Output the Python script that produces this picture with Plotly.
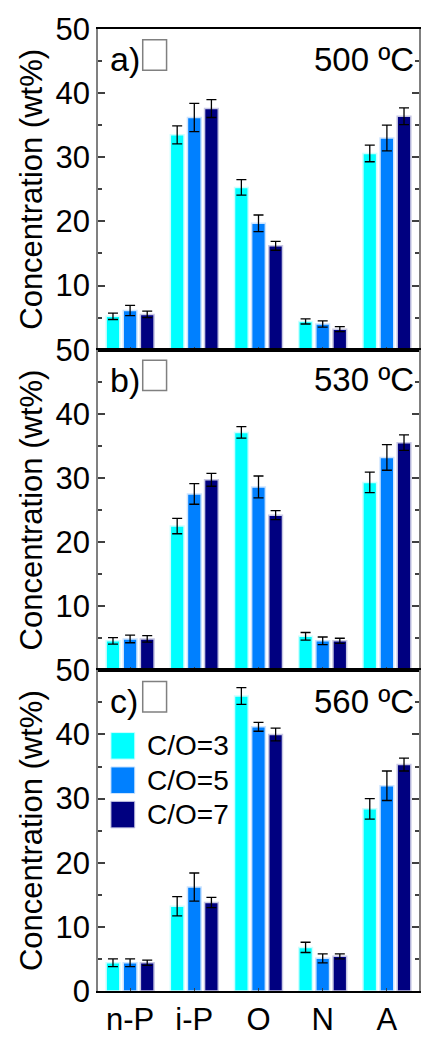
import plotly.graph_objects as go
from plotly.subplots import make_subplots

categories = ["n-P", "i-P", "O", "N", "A"]
series_names = ["C/O=3", "C/O=5", "C/O=7"]

# Panel a) 500 ºC
a_co3 = [5.2, 33.5, 25.3, 4.4, 30.6]
a_co3_err = [0.5, 1.4, 1.2, 0.4, 1.3]
a_co5 = [6.1, 36.2, 19.7, 4.0, 33.0]
a_co5_err = [0.8, 2.2, 1.3, 0.5, 2.0]
a_co7 = [5.5, 37.6, 16.2, 3.2, 36.4]
a_co7_err = [0.5, 1.4, 0.7, 0.4, 1.3]

# Panel b) 530 ºC
b_co3 = [4.6, 22.5, 37.1, 5.3, 29.3]
b_co3_err = [0.5, 1.2, 0.9, 0.6, 1.6]
b_co5 = [4.9, 27.5, 28.6, 4.6, 33.2]
b_co5_err = [0.6, 1.6, 1.7, 0.6, 2.0]
b_co7 = [4.9, 29.7, 24.2, 4.6, 35.5]
b_co7_err = [0.5, 1.0, 0.7, 0.4, 1.2]

# Panel c) 560 ºC
c_co3 = [4.4, 13.2, 46.0, 6.8, 28.4]
c_co3_err = [0.6, 1.5, 1.3, 0.8, 1.6]
c_co5 = [4.4, 16.2, 41.2, 5.1, 32.0]
c_co5_err = [0.6, 2.2, 0.7, 0.7, 2.3]
c_co7 = [4.4, 13.8, 40.0, 5.4, 35.3]
c_co7_err = [0.4, 0.8, 1.0, 0.4, 1.0]

panel_labels = ["a)", "b)", "c)"]
temp_labels = ["500 ºC", "530 ºC", "560 ºC"]

panels = [
    [(a_co3, a_co3_err), (a_co5, a_co5_err), (a_co7, a_co7_err)],
    [(b_co3, b_co3_err), (b_co5, b_co5_err), (b_co7, b_co7_err)],
    [(c_co3, c_co3_err), (c_co5, c_co5_err), (c_co7, c_co7_err)],
]

colors = ["#00FFFF", "#0080FF", "#000080"]
edge_colors = ["#CCFFFF", "#CCE4FF", "#C8C8E4"]

FONT = "Liberation Sans, Arial, sans-serif"

fig = make_subplots(rows=3, cols=1, shared_xaxes=True, vertical_spacing=0)

for r, panel in enumerate(panels, start=1):
    for i, (vals, errs) in enumerate(panel):
        fig.add_trace(
            go.Bar(
                x=categories,
                y=vals,
                name=series_names[i],
                marker=dict(color=colors[i], line=dict(color=edge_colors[i], width=1.5)),
                error_y=dict(type="data", array=errs, color="black", thickness=1.3, width=5),
                showlegend=False,
            ),
            row=r, col=1,
        )

W, H = 423, 1039
ml, mr, mt, mb = 98, 2, 29, 31
pw = W - ml - mr
ph = H - mt - mb


def px_x(x):
    return (x - ml) / pw


def px_y(y):
    return (H - mb - y) / ph


annotations = []
shapes = []
panel_tops = [29, 355, 682]
for k in range(3):
    top = panel_tops[k]
    annotations.append(dict(
        text=panel_labels[k], xref="paper", yref="paper",
        x=px_x(108), y=px_y(top + 31), xanchor="left", yanchor="middle",
        showarrow=False, font=dict(family=FONT, size=34, color="black")))
    annotations.append(dict(
        text=temp_labels[k], xref="paper", yref="paper",
        x=px_x(418), y=px_y(top + 31), xanchor="right", yanchor="middle",
        showarrow=False, font=dict(family=FONT, size=33, color="black")))
    shapes.append(dict(
        type="rect", xref="paper", yref="paper",
        x0=px_x(143), x1=px_x(167), y0=px_y(top + 11), y1=px_y(top + 42),
        line=dict(color="#808080", width=1.5), fillcolor="rgba(0,0,0,0)"))

# Legend drawn inside panel c
leg_tops = [745, 780, 815]
for i, name in enumerate(series_names):
    t = leg_tops[i]
    shapes.append(dict(
        type="rect", xref="paper", yref="paper",
        x0=px_x(111), x1=px_x(135), y0=px_y(t), y1=px_y(t + 27),
        line=dict(color=edge_colors[i], width=1), fillcolor=colors[i]))
    annotations.append(dict(
        text=name, xref="paper", yref="paper",
        x=px_x(145), y=px_y(t + 13.5), xanchor="left", yanchor="middle",
        showarrow=False, font=dict(family=FONT, size=28, color="black")))

fig.update_layout(
    width=W, height=H,
    margin=dict(l=ml, r=mr, t=mt, b=mb),
    paper_bgcolor="white", plot_bgcolor="white",
    barmode="group", bargap=0.2, bargroupgap=0.2,
    font=dict(family=FONT, color="black"),
    annotations=annotations, shapes=shapes,
    showlegend=False,
)

for r in range(1, 4):
    fig.update_yaxes(
        range=[0, 50],
        tickvals=[10, 20, 30, 40, 50] if r < 3 else [0, 10, 20, 30, 40, 50],
        ticks="inside", ticklen=7, tickwidth=1.5, tickcolor="#404040",
        minor=dict(dtick=5, ticks="inside", ticklen=4, tickwidth=1.5, tickcolor="#404040"),
        showline=True, linecolor="#808080", linewidth=1.5, mirror="ticks",
        showgrid=False, zeroline=False,
        tickfont=dict(family=FONT, size=31, color="black"),
        title=dict(text="Concentration (wt%)", font=dict(family=FONT, size=31, color="black"), standoff=4),
        row=r, col=1,
    )
    fig.update_xaxes(
        range=[-0.5, 4.5],
        ticks="inside", ticklen=3, tickwidth=1, tickcolor="#404040",
        showline=True, linecolor="black", linewidth=2, mirror=True,
        showgrid=False, zeroline=False,
        tickfont=dict(family=FONT, size=31, color="black"),
        row=r, col=1,
    )

fig.write_html("out.html")
